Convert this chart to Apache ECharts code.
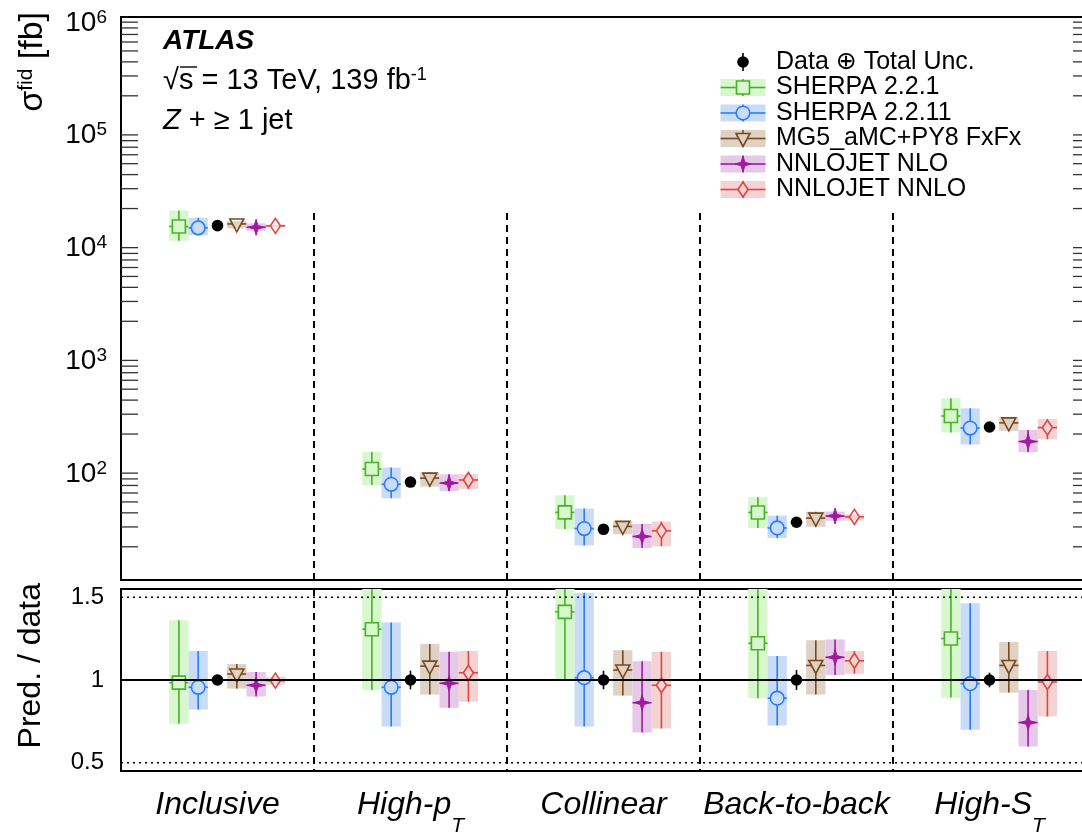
<!DOCTYPE html>
<html>
<head>
<meta charset="utf-8">
<title>Z + jets fiducial cross sections</title>
<script src="https://cdn.jsdelivr.net/npm/echarts@6.0.0/dist/echarts.min.js"></script>
<style>
  html, body { margin: 0; padding: 0; background: #fff; }
  #chart { width: 1082px; height: 835px; }
</style>
</head>
<body>
<div id="chart"></div>
<script>
// phase-space regions ("_x" marks a subscript)
const categories = ['Inclusive', 'High-p_T', 'Collinear', 'Back-to-back', 'High-S_T'];

// measured fiducial cross sections [fb] and relative total uncertainty
const dataXsec = [14100, 75, 28.6, 33, 231];
const dataRelUnc = [0.025, 0.056, 0.056, 0.06, 0.044];

// prediction / data per region: [central, low, high]
const sherpa221 = [[0.984, 0.735, 1.361], [1.307, 0.94, 1.85], [1.412, 1.004, 2.0], [1.222, 0.89, 1.67], [1.251, 0.894, 1.8]];
const sherpa2211 = [[0.956, 0.821, 1.175], [0.956, 0.719, 1.347], [1.014, 0.719, 1.528], [0.89, 0.725, 1.145], [0.978, 0.70, 1.464]];
const mg5Fxfx = [[1.036, 0.948, 1.096], [1.084, 0.912, 1.217], [1.06, 0.906, 1.18], [1.088, 0.912, 1.241], [1.088, 0.924, 1.229]];
const nnlojetNlo = [[0.968, 0.90, 1.048], [0.98, 0.833, 1.171], [0.863, 0.683, 1.114], [1.137, 1.03, 1.245], [0.743, 0.598, 0.94]];
const nnlojetNnlo = [[0.996, 0.972, 1.02], [1.044, 0.869, 1.175], [0.968, 0.707, 1.171], [1.116, 1.038, 1.175], [0.988, 0.779, 1.175]];

// axis ranges / reference lines
const xsecMin = 10.15, xsecMax = 1e6;
const ratioMin = 0.45, ratioMax = 1.55;
const ratioTicks = [0.5, 1, 1.5];

const FONT = "'Liberation Sans', Arial, Helvetica, 'DejaVu Sans', sans-serif";
const LW = 1.6;

const models = [
  { name: 'SHERPA 2.2.1', ratio: sherpa221, slot: -2, line: '#4cae2a', band: '#d6f8cc', marker: 'square' },
  { name: 'SHERPA 2.2.11', ratio: sherpa2211, slot: -1, line: '#2b7cff', band: '#c9dcf7', marker: 'circle' },
  { name: 'MG5_aMC+PY8 FxFx', ratio: mg5Fxfx, slot: 1, line: '#7a4a1c', band: '#ded2c5', marker: 'triangle' },
  { name: 'NNLOJET NLO', ratio: nnlojetNlo, slot: 2, line: '#a0199f', band: '#e6c9e9', marker: 'star' },
  { name: 'NNLOJET NNLO', ratio: nnlojetNnlo, slot: 3, line: '#e04545', band: '#f4d3d3', marker: 'diamond' }
];

// gap left around marker by the error lines: [up, down, side]
const GAPS = {
  square: [6.5, 6.5, 6.5], circle: [6.8, 6.8, 6.8], triangle: [5, 8, 4.3],
  star: [0, 0, 0], diamond: [7.5, 7.5, 5], dot: [0, 0, 0]
};

function markerEls(kind, x, y, color) {
  const open = { fill: 'none', stroke: color, lineWidth: LW };
  switch (kind) {
    case 'square':
      return [{ type: 'rect', shape: { x: x - 6.5, y: y - 6.5, width: 13, height: 13 }, style: open }];
    case 'circle':
      return [{ type: 'circle', shape: { cx: x, cy: y, r: 6.8 }, style: open }];
    case 'triangle':
      return [{ type: 'polygon', shape: { points: [[x - 7, y - 5], [x + 7, y - 5], [x, y + 8]] }, style: open }];
    case 'star':
      return [{ type: 'polygon', shape: { points: [[x, y - 8], [x + 1.8, y - 1.8], [x + 8, y], [x + 1.8, y + 1.8],
        [x, y + 8], [x - 1.8, y + 1.8], [x - 8, y], [x - 1.8, y - 1.8]] }, style: { fill: color, stroke: color, lineWidth: 1 } }];
    case 'diamond':
      return [{ type: 'polygon', shape: { points: [[x, y - 7.5], [x + 5, y], [x, y + 7.5], [x - 5, y]] }, style: open }];
    default:
      return [{ type: 'circle', shape: { cx: x, cy: y, r: 5.8 }, style: { fill: '#000' } }];
  }
}

function errorEls(kind, x, y, yHi, yLo, half, color) {
  const g = GAPS[kind];
  const st = { stroke: color, lineWidth: LW };
  const out = [];
  if (yHi < y - g[0]) out.push({ type: 'line', shape: { x1: x, y1: yHi, x2: x, y2: y - g[0] }, style: st });
  if (yLo > y + g[1]) out.push({ type: 'line', shape: { x1: x, y1: y + g[1], x2: x, y2: yLo }, style: st });
  if (half > 0) {
    out.push({ type: 'line', shape: { x1: x - half, y1: y, x2: x - g[2], y2: y }, style: st });
    out.push({ type: 'line', shape: { x1: x + g[2], y1: y, x2: x + half, y2: y }, style: st });
  }
  return out;
}

function bandWidth(api, yv) {
  return api.coord([1, yv])[0] - api.coord([0, yv])[0];
}

function modelRender(model) {
  return function (params, api) {
    const yv = api.value(1);
    const bw = bandWidth(api, yv);
    const p = api.coord([api.value(0), yv]);
    const lo = api.coord([api.value(0), api.value(2)])[1];
    const hi = api.coord([api.value(0), api.value(3)])[1];
    const x = p[0] + bw * 0.1 * model.slot;
    const half = bw * 0.05;
    return {
      type: 'group',
      children: [
        { type: 'rect', shape: { x: x - half, y: hi, width: 2 * half, height: lo - hi }, style: { fill: model.band } }
      ].concat(errorEls(model.marker, x, p[1], hi, lo, half, model.line), markerEls(model.marker, x, p[1], model.line))
    };
  };
}

function dataRender(params, api) {
  const p = api.coord([api.value(0), api.value(1)]);
  const lo = api.coord([api.value(0), api.value(2)])[1];
  const hi = api.coord([api.value(0), api.value(3)])[1];
  return {
    type: 'group',
    children: [{ type: 'line', shape: { x1: p[0], y1: hi, x2: p[0], y2: lo }, style: { stroke: '#000', lineWidth: LW } }]
      .concat(markerEls('dot', p[0], p[1], '#000'))
  };
}

function separatorRender(topOffset) {
  return function (params, api) {
    const cs = params.coordSys;
    const yv = api.value(1);
    const x = api.coord([api.value(0), yv])[0] + bandWidth(api, yv) / 2;
    return { type: 'line', shape: { x1: x, y1: cs.y + topOffset, x2: x, y2: cs.y + cs.height },
      style: { stroke: '#000', lineWidth: 2, lineDash: [7, 5] } };
  };
}

// minor ticks of the log axis (2..9 x 10^n)
const logMinorTicks = [];
for (let e = 1; e < 6; e++) {
  for (let m = 2; m <= 9; m++) {
    const v = m * Math.pow(10, e);
    if (v > xsecMin && v < xsecMax) logMinorTicks.push(v);
  }
}

function minorTickRender(params, api) {
  const cs = params.coordSys;
  const y = api.coord([0, api.value(1)])[1];
  const st = { stroke: '#333', lineWidth: 1.3 };
  return {
    type: 'group',
    children: [
      { type: 'line', shape: { x1: cs.x, y1: y, x2: cs.x + 17, y2: y }, style: st },
      { type: 'line', shape: { x1: cs.x + cs.width - 13, y1: y, x2: cs.x + cs.width, y2: y }, style: st }
    ]
  };
}

function refLineRender(params, api) {
  const cs = params.coordSys;
  const v = api.value(1);
  const y = api.coord([0, v])[1];
  const st = v === 1 ? { stroke: '#000', lineWidth: 2 } : { stroke: '#000', lineWidth: 1.3, lineDash: [2, 4] };
  return { type: 'line', shape: { x1: cs.x, y1: y, x2: cs.x + cs.width, y2: y }, style: st };
}

const series = [];
const idx = categories.map((c, i) => i);

// separators
series.push({ type: 'custom', xAxisIndex: 0, yAxisIndex: 0, silent: true, clip: false,
  renderItem: separatorRender(196), data: [0, 1, 2, 3].map(i => [i, 1000]) });
series.push({ type: 'custom', xAxisIndex: 1, yAxisIndex: 2, silent: true, clip: false,
  renderItem: separatorRender(0), data: [0, 1, 2, 3].map(i => [i, 1]) });
series.push({ type: 'custom', xAxisIndex: 0, yAxisIndex: 0, silent: true, clip: false,
  renderItem: minorTickRender, data: logMinorTicks.map(v => [0, v]) });

models.forEach(m => {
  series.push({ type: 'custom', name: m.name, xAxisIndex: 0, yAxisIndex: 0, clip: true,
    renderItem: modelRender(m),
    data: idx.map(i => [i, dataXsec[i] * m.ratio[i][0], dataXsec[i] * m.ratio[i][1], dataXsec[i] * m.ratio[i][2]]) });
  series.push({ type: 'custom', name: m.name, xAxisIndex: 1, yAxisIndex: 2, clip: true,
    renderItem: modelRender(m),
    data: idx.map(i => [i, m.ratio[i][0], m.ratio[i][1], m.ratio[i][2]]) });
});

series.push({ type: 'custom', xAxisIndex: 1, yAxisIndex: 2, silent: true, clip: false,
  renderItem: refLineRender, data: ratioTicks.map(v => [0, v]) });

series.push({ type: 'custom', name: 'Data', xAxisIndex: 0, yAxisIndex: 0, clip: true,
  renderItem: dataRender,
  data: idx.map(i => [i, dataXsec[i], dataXsec[i] * (1 - dataRelUnc[i]), dataXsec[i] * (1 + dataRelUnc[i])]) });
series.push({ type: 'custom', name: 'Data', xAxisIndex: 1, yAxisIndex: 2, clip: true,
  renderItem: dataRender,
  data: idx.map(i => [i, 1, 1 - dataRelUnc[i], 1 + dataRelUnc[i]]) });

// legend and labels drawn as graphic elements
const graphics = [];
const LEG_X = 743, LEG_HALF = 22.5, LEG_TEXT_X = 776;
const legendRows = [62, 87.5, 113, 138.5, 164, 189.5];

graphics.push({ type: 'line', shape: { x1: LEG_X, y1: legendRows[0] - 9, x2: LEG_X, y2: legendRows[0] + 9 }, style: { stroke: '#000', lineWidth: LW } });
markerEls('dot', LEG_X, legendRows[0], '#000').forEach(e => graphics.push(e));
graphics.push({ type: 'text', x: LEG_TEXT_X, y: legendRows[0],
  style: { text: 'Data \u2295 Total Unc.', font: '25px ' + FONT, fill: '#000', align: 'left', verticalAlign: 'middle' } });

models.forEach((m, k) => {
  const y = legendRows[k + 1];
  graphics.push({ type: 'rect', shape: { x: LEG_X - LEG_HALF, y: y - 8.5, width: 2 * LEG_HALF, height: 17 }, style: { fill: m.band } });
  errorEls(m.marker, LEG_X, y, y - 8.5, y + 8.5, LEG_HALF, m.line).forEach(e => graphics.push(e));
  markerEls(m.marker, LEG_X, y, m.line).forEach(e => graphics.push(e));
  graphics.push({ type: 'text', x: LEG_TEXT_X, y: y,
    style: { text: m.name, font: '25px ' + FONT, fill: '#000', align: 'left', verticalAlign: 'middle' } });
});

graphics.push({ type: 'text', x: 163, y: 41,
  style: { text: 'ATLAS', font: 'italic bold 28px ' + FONT, fill: '#000', align: 'left', verticalAlign: 'middle' } });
graphics.push({ type: 'text', x: 163, y: 81,
  style: { text: '\u221As = 13 TeV, 139 fb{sup|-1}', font: '29px ' + FONT, fill: '#000', align: 'left', verticalAlign: 'middle',
    rich: { sup: { font: '18px ' + FONT, verticalAlign: 'top', lineHeight: 14 } } } });
graphics.push({ type: 'line', shape: { x1: 180, y1: 67, x2: 197, y2: 67 }, style: { stroke: '#000', lineWidth: 1.4 } });
graphics.push({ type: 'text', x: 163, y: 121,
  style: { text: '{it|Z} + \u2265 1 jet', font: '29px ' + FONT, fill: '#000', align: 'left', verticalAlign: 'middle',
    rich: { it: { font: 'italic 29px ' + FONT } } } });

graphics.push({ type: 'text', x: 33, y: 12, rotation: Math.PI / 2,
  style: { text: '\u03C3{sup|fid} [fb]', font: '34px ' + FONT, fill: '#000', align: 'right', verticalAlign: 'middle',
    rich: { sup: { font: '21px ' + FONT, verticalAlign: 'top', lineHeight: 16 } } } });
graphics.push({ type: 'text', x: 31, y: 583, rotation: Math.PI / 2,
  style: { text: 'Pred. / data', font: '32px ' + FONT, fill: '#000', align: 'right', verticalAlign: 'middle' } });

const tickStyle = { color: '#333', width: 1.4 };

// "High-p_T" -> rich text with a subscript
function categoryLabel(v) {
  const parts = v.split('_');
  return '{m|' + parts[0] + '}' + (parts[1] ? '{sub|' + parts[1] + '}' : '');
}

const option = {
  animation: false,
  backgroundColor: '#fff',
  grid: [
    { left: 121, right: -4, top: 17, height: 563, outerBoundsMode: 'none', show: true,
      borderColor: '#000', borderWidth: 2, backgroundColor: 'transparent' },
    { left: 121, right: -4, top: 589, height: 182, outerBoundsMode: 'none', show: true,
      borderColor: '#000', borderWidth: 2, backgroundColor: 'transparent' }
  ],
  xAxis: [
    { type: 'category', gridIndex: 0, data: categories, axisLine: { show: false }, axisTick: { show: false },
      axisLabel: { show: false }, splitLine: { show: false } },
    { type: 'category', gridIndex: 1, data: categories, axisLine: { show: false },
      axisTick: { inside: true, length: 7, lineStyle: { color: '#000', width: 1.5 } },
      axisLabel: { interval: 0, margin: 18, verticalAlign: 'top', formatter: categoryLabel,
        rich: {
          m: { fontFamily: FONT, fontSize: 32, fontStyle: 'italic', color: '#000', lineHeight: 32, verticalAlign: 'top' },
          sub: { fontFamily: FONT, fontSize: 21, fontStyle: 'italic', color: '#000', lineHeight: 22,
            verticalAlign: 'top', padding: [27, 0, 0, 0] }
        } },
      splitLine: { show: false } }
  ],
  yAxis: [
    { type: 'log', logBase: 10, gridIndex: 0, min: xsecMin, max: xsecMax, position: 'left',
      axisLine: { show: false }, axisTick: { inside: true, length: 34, lineStyle: tickStyle },
      axisLabel: { showMinLabel: false, margin: 14, color: '#000', fontFamily: FONT, fontSize: 28, lineHeight: 30,
        padding: [12, 0, 0, 0],
        formatter: v => '10{sup|' + Math.round(Math.log10(v)) + '}',
        rich: { sup: { fontFamily: FONT, fontSize: 19, color: '#000', lineHeight: 14, verticalAlign: 'top' } } },
      splitLine: { show: false } },
    { type: 'log', logBase: 10, gridIndex: 0, min: xsecMin, max: xsecMax, position: 'right',
      axisLine: { show: false }, axisTick: { inside: true, length: 30, lineStyle: tickStyle },
      axisLabel: { show: false }, splitLine: { show: false } },
    { type: 'value', gridIndex: 1, min: ratioMin, max: ratioMax, position: 'left',
      axisLine: { show: false },
      axisTick: { inside: true, length: 27, customValues: ratioTicks, lineStyle: tickStyle },
      axisLabel: { customValues: ratioTicks, margin: 17, color: '#000', fontFamily: FONT, fontSize: 24,
        padding: [6, 0, 0, 0], formatter: v => String(v) },
      splitLine: { show: false } },
    { type: 'value', gridIndex: 1, min: ratioMin, max: ratioMax, position: 'right',
      axisLine: { show: false },
      axisTick: { inside: true, length: 24, customValues: ratioTicks, lineStyle: tickStyle },
      axisLabel: { show: false }, splitLine: { show: false } }
  ],
  graphic: { elements: graphics },
  series: series
};

const chart = echarts.init(document.getElementById('chart'));
chart.setOption(option);
window.addEventListener('resize', () => chart.resize());
</script>
</body>
</html>
